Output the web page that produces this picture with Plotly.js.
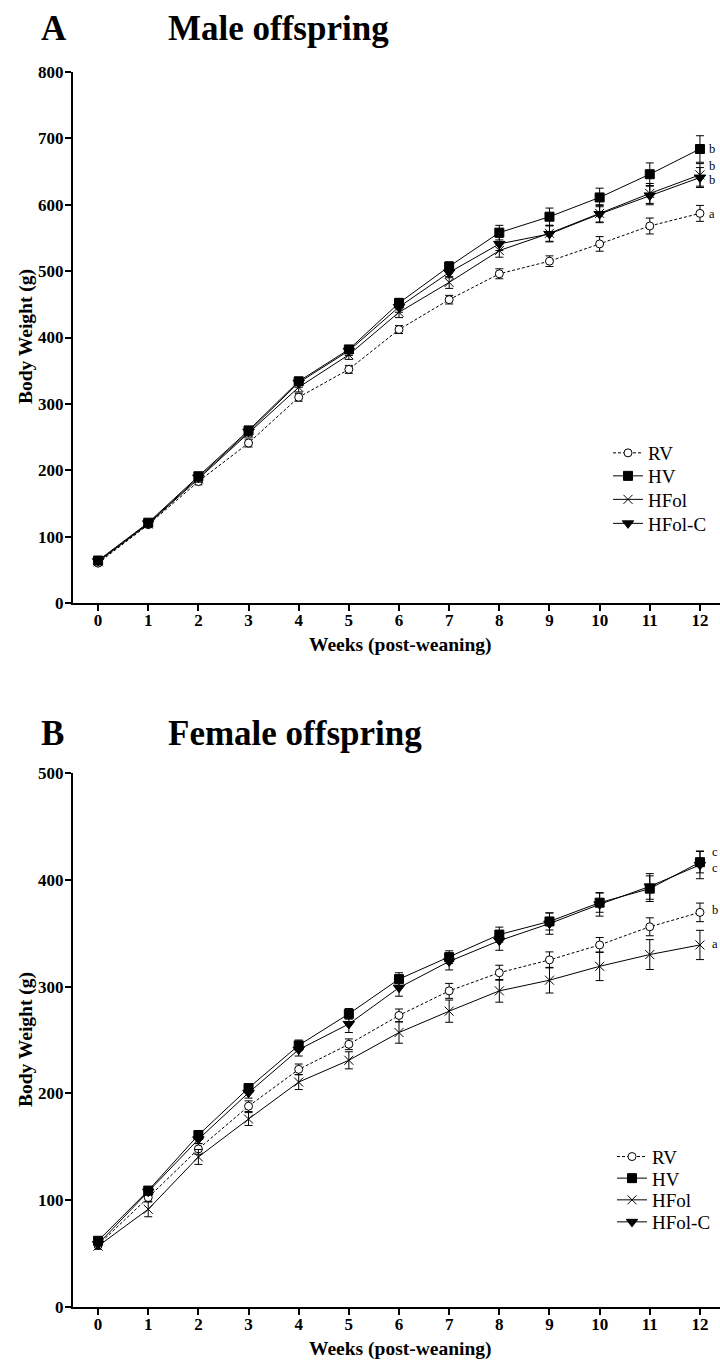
<!DOCTYPE html>
<html>
<head>
<meta charset="utf-8">
<script src="https://cdn.plot.ly/plotly-3.0.1.min.js"></script>
<style>html,body{margin:0;padding:0;background:#fff;}#chart{width:720px;height:1361px;}</style>
</head>
<body>
<div id="chart"></div>
<script>
// ---- data ----
const weeks = [0,1,2,3,4,5,6,7,8,9,10,11,12];
const groups = ["RV","HV","HFol","HFol-C"];

// Male offspring (panel A), body weight (g)
const maleRV    = [60,118,183,241,310,352,412,457,496,515,541,568,587];
const maleHV    = [64,121,191,260,334,382,452,507,558,582,611,646,684];
const maleHFol  = [62,119,187,256,325,374,438,483,531,557,587,617,645];
const maleHFolC = [63,120,189,258,332,380,446,498,541,556,586,614,641];
const maleRVerr    = [3,4,5,6,6,6,6,6.5,7.5,8,11,12,12];
const maleHVerr    = [3,4,5,6,6,6,7,7,11,13,14,17,20];
const maleHFolerr  = [3,4,5,6,7,7,8,9,10,12,13,15,17];
const maleHFolCerr = [3,4,5,6,7,7,8,8,10,12,13,14,15];
const maleLetters  = ["b","b","b","a"];
const maleLetterY  = [684,658,637,586];

// Female offspring (panel B), body weight (g)
const femRV    = [58,102.5,148,188,222.5,246,273,296,313,325,339,356,369.5];
const femHV    = [62,109,161,205,245,274.5,307,327.5,348.7,361,378.6,391.7,416.5];
const femHFol  = [57,91.5,140.5,176,210.6,231,257,277,296,306,319,330,339];
const femHFolC = [59,108,157,200.6,241,265,299,323.6,343,359,377,393.8,414];
const femRVerr    = [2,4,5,5,5,5,6,7,7,7.5,7,8.4,8.7];
const femHVerr    = [2,3,4,4,5,5,6,6,7,8,9,12,10];
const femHFolerr  = [3,7,7,6,7,8,10,10.4,10.6,12,13.4,14,13.7];
const femHFolCerr = [2,3,4,5,6,8,8,8,9,10,11,12,13];
const femLetters  = ["c","c","b","a"];
const femLetterY  = [426,411,372,340];

const maleTicks = [0,100,200,300,400,500,600,700,800];
const femTicks  = [0,100,200,300,400,500];

// ---- styles ----
const SERIF = "Liberation Serif, Times New Roman, serif";
const H = 1361;
const styles = {
  "RV":     {symbol:"circle", size:8, fill:"#fff", dash:"3px,2px"},
  "HV":     {symbol:"square", size:9, fill:"#000", dash:"solid"},
  "HFol":   {symbol:"x-thin", size:9, fill:"#000", dash:"solid"},
  "HFol-C": {symbol:"triangle-down", size:10, fill:"#000", dash:"solid"}
};
// legend placement (text centre y in px, text start x in px)
const legTopY = [453,476,499.5,523.5], legTopX = 648;
const legBotY = [1156.7,1178.3,1200,1222], legBotX = 652;

function trace(name, y, err, xa, ya, legend){
  const s = styles[name];
  return {
    x: weeks, y: y, name: name, type: "scatter", mode: "lines+markers",
    xaxis: xa, yaxis: ya, legend: legend,
    line: {color:"#000", width:1, dash:s.dash},
    marker: {symbol:s.symbol, size:s.size, color:s.fill, line:{color:"#000", width:1}},
    error_y: {type:"data", array: err, visible:true, color:"#000", thickness:1, width:4},
    cliponaxis: false
  };
}

const male = [maleRV, maleHV, maleHFol, maleHFolC];
const maleErr = [maleRVerr, maleHVerr, maleHFolerr, maleHFolCerr];
const fem = [femRV, femHV, femHFol, femHFolC];
const femErr = [femRVerr, femHVerr, femHFolerr, femHFolCerr];

const data = [];
const legFont = {family:SERIF, size:19, color:"#000"};
const layout = {
  width:720, height:H, margin:{l:0, r:0, t:0, b:0}, paper_bgcolor:"#fff", plot_bgcolor:"rgba(0,0,0,0)",
  showlegend: true
};
groups.forEach((g,i)=>{
  const lk = i===0 ? "legend" : "legend"+(i+1);
  data.push(trace(g, male[i], maleErr[i], "x", "y", lk));
  layout[lk] = {x:(legTopX-40)/720, y:1-legTopY[i]/H, xanchor:"left", yanchor:"middle", font:legFont, bgcolor:"rgba(0,0,0,0)"};
});
groups.forEach((g,i)=>{
  const lk = "legend"+(i+5);
  data.push(trace(g, fem[i], femErr[i], "x2", "y2", lk));
  layout[lk] = {x:(legBotX-40)/720, y:1-legBotY[i]/H, xanchor:"left", yanchor:"middle", font:legFont, bgcolor:"rgba(0,0,0,0)"};
});

const tickFont = {family:SERIF, size:17, color:"#000", weight:700};
function xax(anchor){
  return {domain:[73/720,1], anchor:anchor, range:[-0.5,12.4], tickmode:"array", tickvals:weeks,
    ticktext: weeks.map(String), showline:true, linewidth:2, linecolor:"#000", ticks:"outside",
    ticklen:6, tickwidth:2, tickcolor:"#000", tickfont:tickFont, ticklabelstandoff:-5,
    showgrid:false, zeroline:false, fixedrange:true};
}
function yax(anchor, dom, max, ticks){
  return {domain:dom, anchor:anchor, range:[0,max], tickmode:"array", tickvals:ticks, ticktext:ticks.map(String),
    showline:true, linewidth:2, linecolor:"#000", ticks:"outside", ticklen:6, tickwidth:2, tickcolor:"#000",
    tickfont:tickFont, ticklabelstandoff:-2, showgrid:false, zeroline:false, fixedrange:true};
}
layout.xaxis = xax("y");
layout.yaxis = yax("x", [1-603/H, 1-72/H], 800, maleTicks);
layout.xaxis2 = xax("y2");
layout.yaxis2 = yax("x2", [1-1307/H, 1-773/H], 500, femTicks);

const ann = [];
function pa(x, y, text, size, bold, extra){
  ann.push(Object.assign({xref:"paper", yref:"paper", x:x/720, y:1-y/H, text:text, showarrow:false,
    font:{family:SERIF, size:size, color:"#000", weight: bold?700:400}, xanchor:"left", yanchor:"middle"}, extra||{}));
}
pa(39, 28, "A", 35, true);
pa(166, 28, "Male offspring", 35, true);
pa(39, 733, "B", 35, true);
pa(166, 733, "Female offspring", 35, true);
pa(26, 337, "Body Weight (g)", 19.5, true, {textangle:-90, xanchor:"center"});
pa(26, 1040, "Body Weight (g)", 19.5, true, {textangle:-90, xanchor:"center"});
pa(400, 645, "Weeks (post-weaning)", 19.5, true, {xanchor:"center"});
pa(400, 1349, "Weeks (post-weaning)", 19.5, true, {xanchor:"center"});
maleLetters.forEach((t,i)=>ann.push({xref:"x", yref:"y", x:12.14, y:maleLetterY[i], text:t, showarrow:false,
  xanchor:"left", yanchor:"middle", font:{family:SERIF, size:12.5, color:"#000"}}));
femLetters.forEach((t,i)=>ann.push({xref:"x2", yref:"y2", x:12.2, y:femLetterY[i], text:t, showarrow:false,
  xanchor:"left", yanchor:"middle", font:{family:SERIF, size:12.5, color:"#000"}}));
layout.annotations = ann;

Plotly.newPlot("chart", data, layout, {staticPlot:true, displayModeBar:false});
</script>
</body>
</html>
